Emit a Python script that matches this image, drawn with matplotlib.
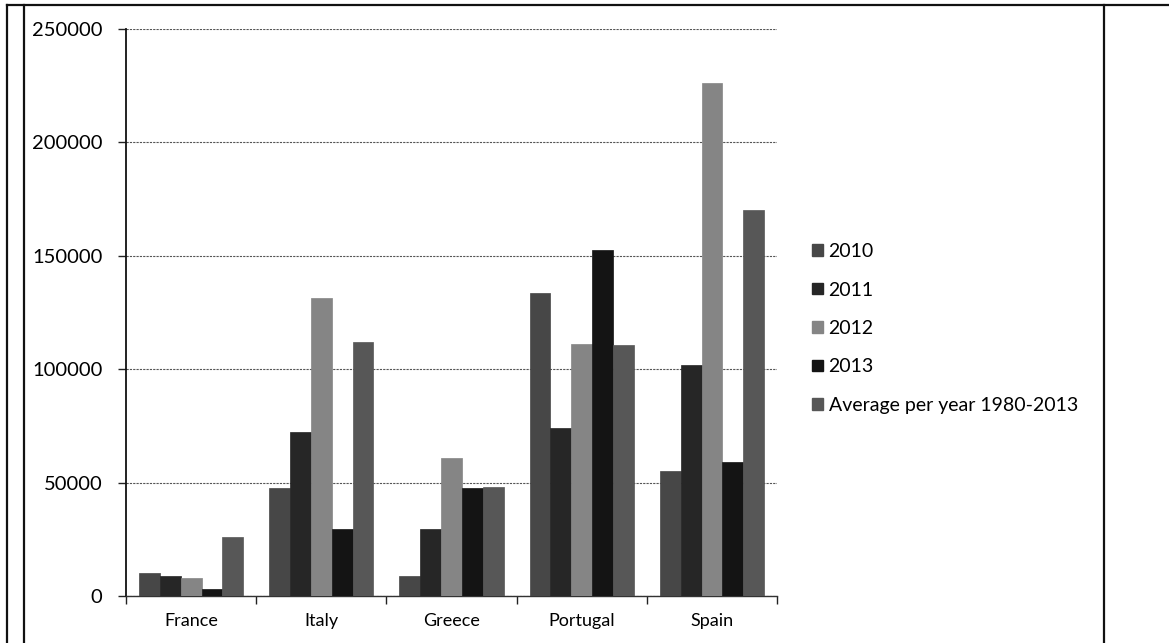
import numpy as np
import matplotlib.pyplot as plt
from matplotlib.lines import Line2D
from matplotlib.patches import Patch

# Data
countries = ["France", "Italy", "Greece", "Portugal", "Spain"]
series = ["2010", "2011", "2012", "2013", "Average per year 1980-2013"]
v2010 = [10000, 47500, 9000, 133500, 55000]
v2011 = [9000, 72500, 29500, 74000, 102000]
v2012 = [8000, 131500, 61000, 111000, 226000]
v2013 = [3000, 29500, 47500, 152500, 59000]
vavg = [26000, 112000, 48000, 110500, 170000]
values = [v2010, v2011, v2012, v2013, vavg]

colors = ["#474747", "#262626", "#858585", "#141414", "#575757"]

plt.rcParams['font.family'] = ['Lato', 'DejaVu Sans']

fig = plt.figure(figsize=(11.69, 6.43), dpi=100)
ax = fig.add_axes([0.1078, 0.0731, 0.5569, 0.8818])

x = np.arange(len(countries))
w = 0.16
for j, (vals, c) in enumerate(zip(values, colors)):
    ax.bar(x + (j - 2) * w, vals, width=w, color=c, edgecolor=c, linewidth=0.5,
           label=series[j], zorder=3)

ax.set_xlim(-0.5, 4.5)
ax.set_ylim(0, 250000)
ax.set_yticks(np.arange(0, 250001, 50000))
ax.set_yticklabels([str(v) for v in range(0, 250001, 50000)], fontsize=14.5)
ax.grid(axis='y', color='#555555', linestyle=(0, (2, 1)), linewidth=0.8, zorder=0)

# category labels centred, tick marks between categories
ax.set_xticks(x)
ax.set_xticklabels(countries, fontsize=13)
ax.tick_params(axis='x', length=0, pad=12)
ax.set_xticks(np.arange(-0.5, 5.0, 1.0), minor=True)
ax.tick_params(axis='x', which='minor', length=6, width=1, color='#222222')
ax.tick_params(axis='y', length=6, width=1, color='#222222', pad=11)

for side in ['top', 'right']:
    ax.spines[side].set_visible(False)
ax.spines['left'].set_color('#111111')
ax.spines['left'].set_linewidth(1.3)
ax.spines['bottom'].set_color('#333333')
ax.spines['bottom'].set_linewidth(1.0)

handles = [Patch(facecolor=c, edgecolor=c) for c in colors]
leg = fig.legend(handles, series, loc='upper left', bbox_to_anchor=(0.688, 0.634),
                 frameon=False, fontsize=14, handlelength=0.55, handleheight=0.55,
                 handletextpad=0.3, labelspacing=1.1, borderaxespad=0)

# chart frame
frame_kw = dict(color='#111111', linewidth=1.6, transform=fig.transFigure)
fig.add_artist(Line2D([7 / 1169, 7 / 1169], [0, 1 - 5 / 643], **frame_kw))
fig.add_artist(Line2D([24 / 1169, 24 / 1169], [0, 1 - 5 / 643], **frame_kw))
fig.add_artist(Line2D([7 / 1169, 1], [1 - 5 / 643, 1 - 5 / 643], **frame_kw))
fig.add_artist(Line2D([1104 / 1169, 1104 / 1169], [0, 1 - 5 / 643], **frame_kw))

fig.savefig("out.png", dpi=100)
